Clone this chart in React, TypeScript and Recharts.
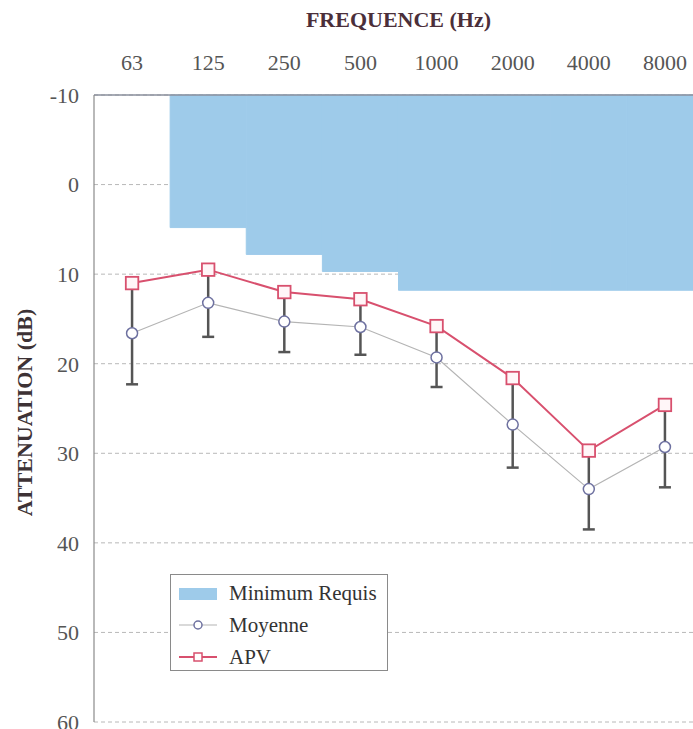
import React from 'react';
import {
  ComposedChart,
  Bar,
  Line,
  XAxis,
  YAxis,
  CartesianGrid,
  ErrorBar,
  Legend,
} from 'recharts';

const FONT = '"Liberation Serif", "Times New Roman", Times, serif';

const categories = ['63', '125', '250', '500', '1000', '2000', '4000', '8000'];
const minimumRequis: (number | null)[] = [null, 4.8, 7.8, 9.7, 11.8, 11.8, 11.8, 11.8];
const moyenne = [16.6, 13.2, 15.3, 15.9, 19.3, 26.8, 34.0, 29.3];
const ecartType = [5.7, 3.8, 3.4, 3.1, 3.3, 4.8, 4.5, 4.5];
const apv = [11.0, 9.5, 12.0, 12.8, 15.8, 21.6, 29.7, 24.6];
const yTicks = [-10, 0, 10, 20, 30, 40, 50, 60];
const yTop = -10;

const data = categories.map((cat, i) => ({
  cat,
  req: minimumRequis[i] == null ? null : [yTop, minimumRequis[i] as number],
  moyenne: moyenne[i],
  sd: ecartType[i],
  apv: apv[i],
}));

const BLUE = '#9ecbea';
const RED = '#d8506e';
const CIRCLE = '#6e71a0';

const SquareDot = (props: any) => {
  const { cx, cy, index } = props;
  if (cx == null || cy == null) return <g key={`s-${index}`} />;
  const s = 12.5;
  return (
    <rect
      key={`s-${index}`}
      x={cx - s / 2}
      y={cy - s / 2}
      width={s}
      height={s}
      fill="#fff6f8"
      stroke={RED}
      strokeWidth={1.8}
    />
  );
};

const TitleLabel = (props: any) => {
  const vb = props.viewBox || {};
  return (
    <text
      x={vb.x + vb.width / 2}
      y={vb.y - 23}
      textAnchor="middle"
      fontFamily={FONT}
      fontSize={22}
      fontWeight="bold"
      fill="#4b2f3a"
    >
      FREQUENCE (Hz)
    </text>
  );
};

const YLabel = (props: any) => {
  const vb = props.viewBox || {};
  const x = vb.x - 10;
  const y = vb.y + vb.height / 2 + 4;
  return (
    <text
      x={x}
      y={y}
      transform={`rotate(-90, ${x}, ${y})`}
      textAnchor="middle"
      dominantBaseline="central"
      fontFamily={FONT}
      fontSize={22}
      fontWeight="bold"
      fill="#3d3235"
    >
      ATTENUATION (dB)
    </text>
  );
};

const LegendBox = () => (
  <div
    style={{
      width: 218,
      height: 97,
      border: '1px solid #8a8a8a',
      background: '#fff',
      fontFamily: FONT,
      fontSize: 21,
      color: '#333',
      boxSizing: 'border-box',
      paddingTop: 2,
    }}
  >
    <div style={{ display: 'flex', alignItems: 'center', height: 32 }}>
      <svg width={52} height={20} style={{ marginLeft: 6 }}>
        <rect x={2} y={5} width={38} height={12} fill={BLUE} />
      </svg>
      <span>Minimum Requis</span>
    </div>
    <div style={{ display: 'flex', alignItems: 'center', height: 32 }}>
      <svg width={52} height={20} style={{ marginLeft: 6 }}>
        <line x1={2} y1={10} x2={40} y2={10} stroke="#b4b4b4" strokeWidth={1.2} />
        <circle cx={21} cy={10} r={4} fill="#fff" stroke={CIRCLE} strokeWidth={1.5} />
      </svg>
      <span>Moyenne</span>
    </div>
    <div style={{ display: 'flex', alignItems: 'center', height: 32 }}>
      <svg width={52} height={20} style={{ marginLeft: 6 }}>
        <line x1={2} y1={10} x2={40} y2={10} stroke={RED} strokeWidth={1.8} />
        <rect x={17} y={6} width={8} height={8} fill="#fff" stroke={RED} strokeWidth={1.5} />
      </svg>
      <span>APV</span>
    </div>
  </div>
);

export default function App() {
  return (
    <div
      style={{
        position: 'absolute',
        left: 0,
        top: 0,
        width: 693,
        height: 729,
        overflow: 'hidden',
        background: '#fff',
      }}
    >
      <ComposedChart
        width={720}
        height={729}
        data={data}
        margin={{ top: 50, right: 17, bottom: 7, left: 34 }}
        barCategoryGap={0}
        barGap={0}
      >
        <CartesianGrid vertical={false} strokeDasharray="4 3" stroke="#b8b8b8" />
        <Bar
          dataKey="req"
          fill={BLUE}
          stroke={BLUE}
          strokeWidth={1}
          isAnimationActive={false}
          legendType="none"
        />
        <XAxis
          dataKey="cat"
          orientation="top"
          height={45}
          interval={0}
          tickLine={false}
          tickSize={0}
          tickMargin={25}
          axisLine={{ stroke: '#8a8f9c', strokeWidth: 1.5 }}
          tick={{ fontSize: 22, fill: '#555', fontFamily: FONT }}
          label={<TitleLabel />}
        />
        <XAxis
          dataKey="cat"
          xAxisId="bottom"
          orientation="bottom"
          height={0}
          tick={false}
          tickLine={false}
          axisLine={{ stroke: '#8a8a8a', strokeWidth: 1.2 }}
        />
        <YAxis
          type="number"
          domain={[-10, 60]}
          ticks={yTicks}
          reversed
          width={60}
          interval={0}
          tickLine={false}
          tickSize={0}
          tickMargin={15}
          axisLine={{ stroke: '#8a8a8a', strokeWidth: 1.2 }}
          tick={{ fontSize: 22, fill: '#555', fontFamily: FONT }}
          label={<YLabel />}
        />
        <Line
          dataKey="moyenne"
          stroke="#b4b4b4"
          strokeWidth={1.2}
          dot={{ r: 5.5, stroke: CIRCLE, strokeWidth: 1.5, fill: '#fff' }}
          activeDot={false}
          isAnimationActive={false}
        >
          <ErrorBar dataKey="sd" width={6} stroke="#555" strokeWidth={2.5} direction="y" />
        </Line>
        <Line
          dataKey="apv"
          stroke={RED}
          strokeWidth={2}
          dot={<SquareDot />}
          activeDot={false}
          isAnimationActive={false}
        />
        <Legend
          layout="vertical"
          align="center"
          verticalAlign="middle"
          wrapperStyle={{ left: 170, top: 574, width: 218 }}
          content={<LegendBox />}
        />
      </ComposedChart>
    </div>
  );
}
